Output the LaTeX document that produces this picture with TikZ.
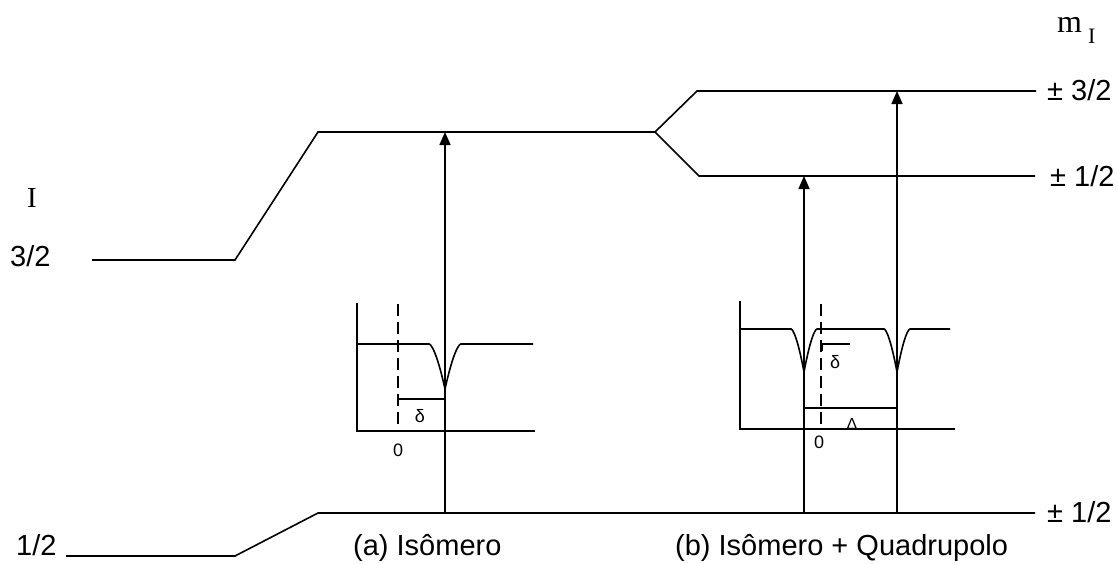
\documentclass[tikz,border=0pt]{standalone}
\usepackage{fontspec}
\setmainfont{Liberation Sans}
\newfontfamily\seriffont{Liberation Serif}
\usetikzlibrary{arrows.meta}
\tikzset{
  level/.style={line width=1.6pt, line join=miter},
  axisline/.style={line width=1.6pt},
  trans/.style={line width=1.6pt, -{Triangle[width=11pt,length=13pt]}},
  zeroline/.style={line width=1.4pt, dash pattern=on 12pt off 6pt},
  big/.style={inner sep=0pt, font=\fontsize{29}{32}\selectfont},
  small/.style={inner sep=0pt, font=\fontsize{18}{20}\selectfont},
}
\begin{document}
\begin{tikzpicture}[x=1pt,y=-1pt]
\useasboundingbox (0,0) rectangle (1118,563);
% energy levels
\draw[level] (92,260) -- (235,260) -- (318,132) -- (655,132);
\draw[level] (655,132) -- (697,91) -- (1036,91);
\draw[level] (655,132) -- (699,176) -- (1035,176);
\draw[level] (66,556) -- (235,556) -- (318,513) -- (1035,513);
% level labels
\node[big, anchor=center] (Ilab) at (32,198) {\seriffont I};
\node[big, anchor=base west] (l32) at (10,266) {3/2};
\node[big, anchor=base west] (l12) at (16,555) {1/2};
\node[inner sep=0pt, anchor=base west] (mI) at (1057,32) {\seriffont\fontsize{32}{34}\selectfont m\hspace{6pt}\raisebox{-11pt}{\fontsize{22}{22}\selectfont I}};
\node[big, anchor=base west] (p32) at (1047,100) {± 3/2};
\node[big, anchor=base west] (p12a) at (1050,186) {± 1/2};
\node[big, anchor=base west] (p12b) at (1047,522) {± 1/2};
\node[big, anchor=base west] (capa) at (353,555) {(a) Isômero};
\node[big, anchor=base west] (capb) at (675,555) {(b) Isômero + Quadrupolo};
% transitions
\coordinate (ga) at (445,513); \coordinate (ea) at (445,132);
\coordinate (gb1) at (804,513); \coordinate (eb1) at (804,176);
\coordinate (gb2) at (897,513); \coordinate (eb2) at (897,91);
\draw[trans] (ga) -- (ea);
\draw[trans] (gb1) -- (eb1);
\draw[trans] (gb2) -- (eb2);
% inset (a)
\draw[axisline] (357,303) -- (357,431) -- (535,431);
\draw[axisline, line join=round] (357,344) -- (429,344)
  -- plot[domain=-1:1, samples=101] ({445+16*\x}, {344+45*(1-abs(\x))^1.6})
  -- (533,344);
\draw[zeroline] (398,304) -- (398,428);
\draw[axisline] (398,395) -- (398,399) -- (445,399);
\node[small] (da) at (420,416) {δ};
\node[small] (za) at (398,450) {0};
% inset (b)
\draw[axisline] (740,301) -- (740,429) -- (955,429);
\draw[axisline, line join=round] (740,329) -- (791,329)
  -- plot[domain=-1:1, samples=101] ({804+13*\x}, {329+43*(1-abs(\x))^1.6})
  -- (884,329)
  -- plot[domain=-1:1, samples=101] ({897+13*\x}, {329+43*(1-abs(\x))^1.6})
  -- (950,329);
\draw[zeroline] (821,304) -- (821,429);
\draw[axisline] (822,351) -- (822,344) -- (850,344);
\node[small] (db) at (835,362) {δ};
\draw[axisline] (804,408) -- (897,408);
\node[inner sep=0pt, font=\fontsize{16}{18}\selectfont, anchor=base] (Db) at (852,429) {Δ};
\node[small] (zb) at (819,442) {0};
\end{tikzpicture}
\end{document}
